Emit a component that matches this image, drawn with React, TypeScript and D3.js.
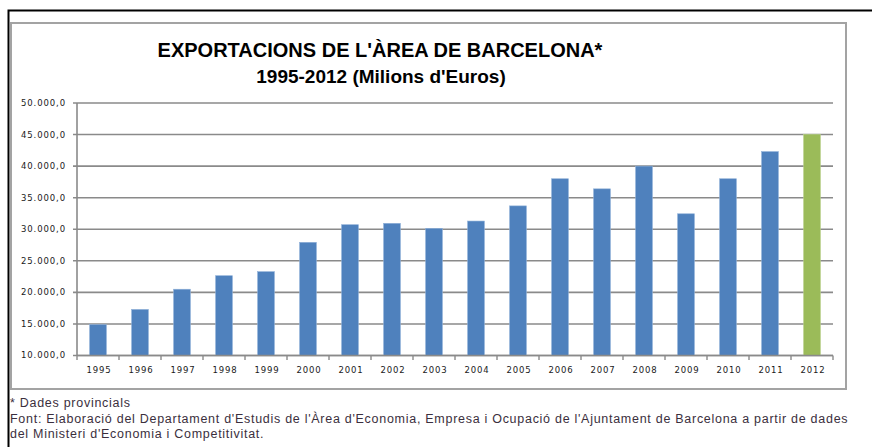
import React from 'react';
import * as d3 from 'd3';

// exportacions, milions d'euros
const years = ['1995', '1996', '1997', '1998', '1999', '2000', '2001', '2002', '2003', '2004', '2005', '2006', '2007', '2008', '2009', '2010', '2011', '2012'];
const exportValues = [14900, 17300, 20500, 22640, 23280, 27930, 30720, 30940, 30150, 31300, 33700, 38000, 36400, 40000, 32450, 38000, 42300, 45050];
const yTicks = [10000, 15000, 20000, 25000, 30000, 35000, 40000, 45000, 50000];
const titleLines = ["EXPORTACIONS DE L'ÀREA DE BARCELONA*", "1995-2012 (Milions d'Euros)"];
const footnotes = [
    '* Dades provincials',
    "Font: Elaboració del Departament d'Estudis de l'Àrea d'Economia, Empresa i Ocupació de l'Ajuntament de Barcelona a partir de dades",
    "del Ministeri d'Economia i Competitivitat.",
];

const W = 872;
const H = 447;
const plot = { left: 77, right: 833, top: 103, bottom: 355.5 };

const fmt = (v: number) => {
    // 50000 -> 50.000,0
    const s = String(v).replace(/\B(?=(\d{3})+(?!\d))/g, '.');
    return `${s},0`;
};

export default function App() {
    const x = d3.scaleBand()
        .domain(years)
        .range([plot.left, plot.right])
        .paddingInner(0.6)
        .paddingOuter(0.3);

    const y = d3.scaleLinear()
        .domain([10000, 50000])
        .range([plot.bottom, plot.top]);

    const boundaries = d3.range(years.length + 1).map(i => plot.left + i * (plot.right - plot.left) / years.length);

    const labelFont = '"DejaVu Sans", Verdana, sans-serif';
    const arial = '"Liberation Sans", Arial, sans-serif';

    return (
        <svg width={W} height={H} style={{ position: 'absolute', left: 0, top: 0, background: '#fff' }}>
            {/* outer black frame */}
            <path d={`M8.5,${H} V10.5 H${W}`} fill='none' stroke='#000' strokeWidth={2} />
            {/* chart box */}
            <rect x={11} y={23} width={835} height={366} fill='#fff' stroke='#a3a3a3' strokeWidth={2} />

            {/* title */}
            <text x={380} y={57} textAnchor='middle' fontFamily={arial} fontWeight='bold' fontSize={20} fill='#000'>{titleLines[0]}</text>
            <text x={381} y={83} textAnchor='middle' fontFamily={arial} fontWeight='bold' fontSize={19} fill='#000'>{titleLines[1]}</text>

            {/* gridlines + y ticks */}
            {yTicks.map(t => (
                <g key={t}>
                    <line x1={plot.left - 4} x2={plot.right} y1={y(t)} y2={y(t)} stroke='#8a8a8a' strokeWidth={1.6} />
                    <text x={66} y={y(t)} dy='0.35em' textAnchor='end' fontFamily={labelFont} fontSize={8.5} letterSpacing={0.9} fill='#1a1a1a'>{fmt(t)}</text>
                </g>
            ))}

            {/* bars */}
            {years.map((yr, i) => (
                <rect
                    key={yr}
                    x={x(yr)}
                    y={y(exportValues[i])}
                    width={x.bandwidth()}
                    height={y(10000) - y(exportValues[i])}
                    fill={yr === '2012' ? '#9BBB59' : '#4F81BD'}
                    stroke={yr === '2012' ? '#b8d08a' : '#8fb0d8'}
                    strokeWidth={0.6}
                />
            ))}

            {/* axes */}
            <line x1={plot.left} x2={plot.left} y1={plot.top} y2={plot.bottom} stroke='#8a8a8a' strokeWidth={1.6} />
            <line x1={plot.left} x2={plot.right} y1={plot.bottom} y2={plot.bottom} stroke='#8a8a8a' strokeWidth={1.6} />
            {boundaries.map((b, i) => (
                <line key={i} x1={b} x2={b} y1={plot.bottom} y2={plot.bottom + 4.5} stroke='#8a8a8a' strokeWidth={1.4} />
            ))}
            {years.map(yr => (
                <text key={yr} x={(x(yr) ?? 0) + x.bandwidth() / 2 + 1} y={373} textAnchor='middle' fontFamily={labelFont} fontSize={8.5} letterSpacing={0.9} fill='#1a1a1a'>{yr}</text>
            ))}

            {/* footnotes */}
            {footnotes.map((f, i) => (
                <text key={i} x={10} y={407 + i * 15.5} fontFamily={arial} fontSize={12.5} letterSpacing={0.72} fill='#3b2f3d'>{f}</text>
            ))}
        </svg>
    );
}
